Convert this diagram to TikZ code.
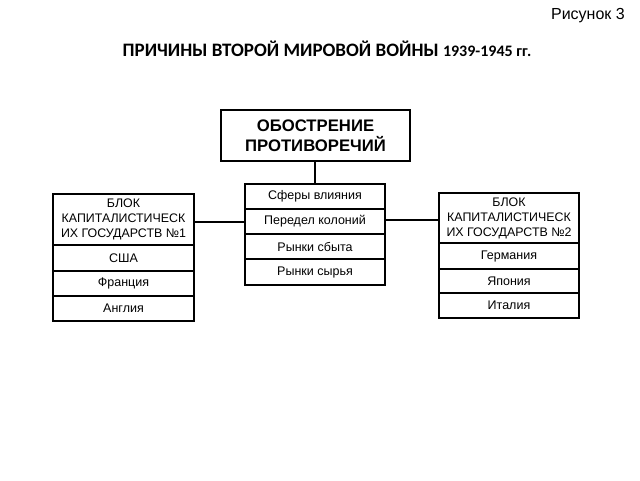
\documentclass[tikz,border=0pt]{standalone}
\usepackage{fontspec}
\setmainfont{Liberation Sans}
\newfontfamily\titlefont{Carlito}
\begin{document}
\begin{tikzpicture}[x=1pt,y=-1pt,
  cell/.style={draw=black, line width=1.4pt, inner sep=0pt, align=center, font=\fontsize{12.5}{14}\selectfont},
  conn/.style={draw=black, line width=1.4pt}]
\useasboundingbox (0,0) rectangle (640,480);
% header
\node[anchor=base east, inner sep=0pt, font=\fontsize{16}{18}\selectfont] (fig) at (625,19) {Рисунок 3};
\node[anchor=base, inner sep=0pt, font=\titlefont\bfseries\fontsize{19}{22}\selectfont] (title) at (327,56)
  {ПРИЧИНЫ ВТОРОЙ МИРОВОЙ ВОЙНЫ {\fontsize{16}{19}\selectfont 1939-1945 гг.}};
% top box
\node[cell, minimum width=189pt, minimum height=51pt, font=\bfseries\fontsize{16.7}{20.5}\selectfont] (top) at (315.5,135.5)
  {ОБОСТРЕНИЕ\\ПРОТИВОРЕЧИЙ};
% centre column
\node[cell, minimum width=140pt, minimum height=25pt] (c1) at (315,196.5) {Сферы влияния};
\node[cell, minimum width=140pt, minimum height=25pt] (c2) at (315,221.5) {Передел колоний};
\node[cell, minimum width=140pt, minimum height=25pt] (c3) at (315,246.5) {Рынки сбыта};
\node[cell, minimum width=140pt, minimum height=26pt] (c4) at (315,272) {Рынки сырья};
% left column
\node[cell, minimum width=141pt, minimum height=51pt, font=\fontsize{12.4}{15}\selectfont] (l0) at (123.5,219.5)
  {БЛОК\\КАПИТАЛИСТИЧЕСК\\ИХ ГОСУДАРСТВ №1};
\node[cell, minimum width=141pt, minimum height=26pt] (l1) at (123.5,258) {США};
\node[cell, minimum width=141pt, minimum height=25pt] (l2) at (123.5,283.5) {Франция};
\node[cell, minimum width=141pt, minimum height=25pt] (l3) at (123.5,308.5) {Англия};
% right column
\node[cell, minimum width=140pt, minimum height=50pt, font=\fontsize{12.4}{15}\selectfont] (r0) at (509,218)
  {БЛОК\\КАПИТАЛИСТИЧЕСК\\ИХ ГОСУДАРСТВ №2};
\node[cell, minimum width=140pt, minimum height=26pt] (r1) at (509,256) {Германия};
\node[cell, minimum width=140pt, minimum height=24pt] (r2) at (509,281) {Япония};
\node[cell, minimum width=140pt, minimum height=25pt] (r3) at (509,305.5) {Италия};
% connectors
\draw[conn] (top.south -| c1.north) -- (c1.north);
\draw[conn] (l0.east |- 0,222) -- (c2.west |- 0,222);
\draw[conn] (c2.east |- 0,220) -- (r0.west |- 0,220);
\end{tikzpicture}
\end{document}
